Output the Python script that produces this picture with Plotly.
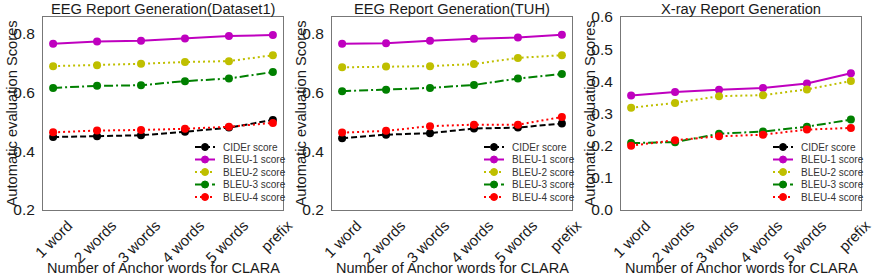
import plotly.graph_objects as go

categories = ["1 word", "2 words", "3 words", "4 words", "5 words", "prefix"]
series_names = ["CIDEr score", "BLEU-1 score", "BLEU-2 score", "BLEU-3 score", "BLEU-4 score"]
panel_titles = ["EEG Report Generation(Dataset1)", "EEG Report Generation(TUH)", "X-ray Report Generation"]
x_title = "Number of Anchor words for CLARA"
y_title = "Automatic evaluation Scores"

p1_cider = [0.448, 0.451, 0.454, 0.466, 0.480, 0.506]
p1_bleu1 = [0.765, 0.773, 0.775, 0.783, 0.791, 0.795]
p1_bleu2 = [0.689, 0.692, 0.697, 0.703, 0.706, 0.726]
p1_bleu3 = [0.615, 0.622, 0.624, 0.638, 0.647, 0.669]
p1_bleu4 = [0.464, 0.470, 0.472, 0.476, 0.483, 0.496]

p2_cider = [0.444, 0.456, 0.461, 0.477, 0.480, 0.494]
p2_bleu1 = [0.765, 0.767, 0.775, 0.782, 0.786, 0.796]
p2_bleu2 = [0.685, 0.688, 0.689, 0.696, 0.717, 0.726]
p2_bleu3 = [0.604, 0.609, 0.615, 0.625, 0.647, 0.662]
p2_bleu4 = [0.463, 0.469, 0.485, 0.490, 0.490, 0.516]

p3_cider = [None, None, None, None, None, None]
p3_bleu1 = [0.356, 0.367, 0.374, 0.379, 0.393, 0.425]
p3_bleu2 = [0.318, 0.333, 0.354, 0.357, 0.375, 0.401]
p3_bleu3 = [0.208, 0.211, 0.237, 0.244, 0.259, 0.281]
p3_bleu4 = [0.200, 0.217, 0.229, 0.234, 0.250, 0.255]

panels = [
    [p1_cider, p1_bleu1, p1_bleu2, p1_bleu3, p1_bleu4],
    [p2_cider, p2_bleu1, p2_bleu2, p2_bleu3, p2_bleu4],
    [p3_cider, p3_bleu1, p3_bleu2, p3_bleu3, p3_bleu4],
]
y_ranges = [[0.2, 0.856], [0.2, 0.856], [0.0, 0.6]]
y_ticks = [[0.2, 0.4, 0.6, 0.8], [0.2, 0.4, 0.6, 0.8], [0.0, 0.1, 0.2, 0.3, 0.4, 0.5, 0.6]]

colors = ["#000000", "#bf00bf", "#bfbf00", "#008000", "#ff0000"]
dashes = ["6px,3px", "solid", "2px,3px", "9px,3px,2px,3px", "2px,3px"]

W, H = 872, 279
FONT = "Liberation Sans, Arial, sans-serif"
TXT = "#1a1a1a"
px_left = [43, 332, 621]
px_width = 240
px_top, px_bottom = 17, 210

fig = go.Figure()
shapes = []
annotations = []
for p in range(3):
    ax = "" if p == 0 else str(p + 1)
    for s in range(5):
        fig.add_trace(go.Scatter(
            x=categories, y=panels[p][s], name=series_names[s],
            mode="lines+markers", showlegend=False,
            line=dict(color=colors[s], width=2, dash=dashes[s]),
            marker=dict(color=colors[s], size=8, symbol="circle"),
            xaxis="x" + ax, yaxis="y" + ax,
        ))
    x0 = px_left[p] / W
    x1 = (px_left[p] + px_width) / W
    fig.update_layout(**{
        "xaxis" + ax: dict(
            domain=[x0, x1], anchor="y" + ax, type="category", automargin=False,
            range=[-0.23, 5.23], showgrid=False, zeroline=False,
            showline=True, mirror=True, linecolor="#777777", linewidth=1,
            ticks="", tickangle=-45, ticklabelstandoff=0, ticklabelshift=15,
            tickfont=dict(family=FONT, size=15, color=TXT),
        ),
        "yaxis" + ax: dict(
            domain=[1 - px_bottom / H, 1 - px_top / H], anchor="x" + ax, automargin=False,
            range=y_ranges[p], tickvals=y_ticks[p], tickformat=".1f",
            showgrid=False, zeroline=False,
            showline=True, mirror=True, linecolor="#777777", linewidth=1,
            ticks="", ticklabelstandoff=4,
            tickfont=dict(family=FONT, size=15.5, color=TXT),
        ),
    })
    # titles
    annotations.append(dict(
        text=panel_titles[p], x=(px_left[p] + px_width / 2) / W, y=1 - 9 / H,
        xref="paper", yref="paper", showarrow=False, xanchor="center", yanchor="middle",
        font=dict(family=FONT, size=14.7, color=TXT),
    ))
    annotations.append(dict(
        text=x_title, x=(px_left[p] + px_width / 2) / W, y=1 - 268 / H,
        xref="paper", yref="paper", showarrow=False, xanchor="center", yanchor="middle",
        font=dict(family=FONT, size=14.5, color=TXT),
    ))
    annotations.append(dict(
        text=y_title, x=(px_left[p] - 32) / W, y=1 - (px_top + px_bottom) / 2 / H,
        xref="paper", yref="paper", showarrow=False, xanchor="center", yanchor="middle",
        textangle=-90, font=dict(family=FONT, size=14.7, color=TXT),
    ))
    # legend
    mx = px_left[p] + 162
    for s in range(5):
        ly = 147 + s * 12.5
        shapes.append(dict(
            type="line", xref="paper", yref="paper",
            x0=(mx - 10) / W, x1=(mx + 10) / W, y0=1 - ly / H, y1=1 - ly / H,
            line=dict(color=colors[s], width=2, dash=dashes[s]),
        ))
        shapes.append(dict(
            type="circle", xref="paper", yref="paper",
            xsizemode="pixel", ysizemode="pixel",
            xanchor=mx / W, yanchor=1 - ly / H,
            x0=-3.5, x1=3.5, y0=-3.5, y1=3.5,
            fillcolor=colors[s], line=dict(color=colors[s], width=1),
        ))
        annotations.append(dict(
            text=series_names[s], x=(mx + 16) / W, y=1 - ly / H,
            xref="paper", yref="paper", showarrow=False,
            xanchor="left", yanchor="middle",
            font=dict(family=FONT, size=10, color="#333333"),
        ))

fig.update_layout(
    width=W, height=H, margin=dict(l=0, r=0, t=0, b=0, autoexpand=False),
    paper_bgcolor="white", plot_bgcolor="white",
    showlegend=False, shapes=shapes, annotations=annotations,
    font=dict(family=FONT, color=TXT),
)
fig.write_html("out.html", config={"displayModeBar": False},
               post_script="document.body.style.margin='0';document.body.style.padding='0';")
